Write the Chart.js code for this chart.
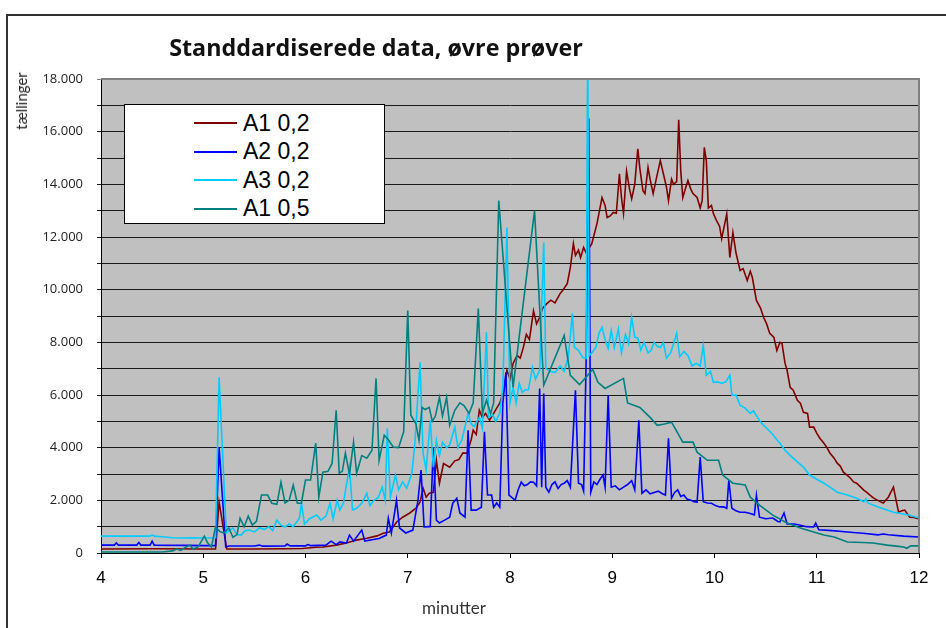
<!DOCTYPE html>
<html>
<head>
<meta charset="utf-8">
<script src="https://cdn.jsdelivr.net/npm/chart.js@4.4.1/dist/chart.umd.min.js"></script>
<style>
  html, body { margin: 0; padding: 0; background: #fff; }
  #wrap { position: relative; width: 946px; height: 628px; overflow: hidden; }
  #frame { position: absolute; left: 6px; top: 14px; width: 1000px; height: 700px;
           border-left: 2px solid #333; border-top: 2px solid #333; }
  #title { position: absolute; left: 0; width: 752px; top: 31px; text-align: center;
           font: bold 23.3px "Open Sans", sans-serif; color: #111; }
  #ytitle { position: absolute; left: 21px; top: 101px; transform: translate(-50%, -50%) rotate(-90deg);
            font: 15px Lato, sans-serif; color: #222; white-space: nowrap; }
  #xtitle { position: absolute; left: 454px; top: 607px; transform: translate(-50%, -50%);
            font: 17px Lato, sans-serif; color: #333; }
  #legend { position: absolute; left: 124px; top: 104px; width: 259px; height: 118px;
            background: #fff; border: 1px solid #000; }
  .row { position: absolute; left: 69px; height: 28px; display: flex; align-items: center;
         font: 23px "Liberation Sans", Arial, sans-serif; color: #000; }
  .row span.sw { display: inline-block; width: 43px; height: 2px; margin-right: 6px; }
  canvas { position: absolute; left: 0; top: 0; }
</style>
</head>
<body>
<div id="wrap">
  <div id="frame"></div>
  <canvas id="chart" width="946" height="628"></canvas>
  <div id="title">Standdardiserede data, øvre prøver</div>
  <div id="ytitle">tællinger</div>
  <div id="xtitle">minutter</div>
  <div id="legend"></div>
</div>
<script>
// series names / colours
const seriesNames = ['A1 0,2', 'A2 0,2', 'A3 0,2', 'A1 0,5'];
const seriesColors = ['#800000', '#0000ff', '#00ccff', '#008080'];

// A1 0,2
const a1_02_t = [4.0, 4.5, 5.0, 5.12, 5.155, 5.23, 5.5, 5.8, 5.97, 6.1, 6.17, 6.3, 6.4, 6.5, 6.6, 6.7, 6.76, 6.82, 6.89, 6.95,
  7.02, 7.08, 7.12, 7.15, 7.18, 7.21, 7.25, 7.28, 7.31, 7.35, 7.41, 7.46, 7.5, 7.54, 7.58, 7.62, 7.64, 7.67, 7.7, 7.73,
  7.76, 7.8, 7.84, 7.87, 7.9, 7.94, 7.97, 8.0, 8.03, 8.07, 8.1, 8.13, 8.16, 8.19, 8.23, 8.26, 8.29, 8.32, 8.36, 8.4,
  8.44, 8.49, 8.52, 8.56, 8.59, 8.62, 8.64, 8.67, 8.69, 8.72, 8.745, 8.8, 8.85, 8.9, 8.93, 8.95, 8.98, 9.01, 9.04, 9.07,
  9.09, 9.11, 9.14, 9.17, 9.19, 9.22, 9.25, 9.27, 9.3, 9.32, 9.35, 9.37, 9.4, 9.43, 9.47, 9.5, 9.53, 9.55, 9.58, 9.6,
  9.63, 9.65, 9.67, 9.69, 9.72, 9.74, 9.77, 9.79, 9.83, 9.86, 9.88, 9.9, 9.92, 9.94, 9.97, 9.99, 10.02, 10.05, 10.07, 10.1,
  10.12, 10.15, 10.18, 10.21, 10.25, 10.28, 10.32, 10.35, 10.37, 10.41, 10.45, 10.48, 10.51, 10.54, 10.58, 10.61, 10.64, 10.66, 10.69, 10.71,
  10.74, 10.77, 10.81, 10.84, 10.87, 10.91, 10.93, 10.97, 11.0, 11.03, 11.07, 11.1, 11.13, 11.17, 11.2, 11.23, 11.26, 11.3, 11.33, 11.36,
  11.39, 11.43, 11.46, 11.49, 11.52, 11.55, 11.59, 11.62, 11.65, 11.7, 11.75, 11.8, 11.83, 11.86, 11.91, 11.95, 12.0];
const a1_02_v = [150, 160, 150, 150, 1930, 150, 150, 160, 170, 220, 230, 300, 380, 490, 560, 650, 750, 800, 1170, 1360,
  1520, 1700, 1930, 2460, 2120, 2270, 2300, 3520, 2650, 3400, 3260, 3500, 3550, 3800, 3790, 4300, 4660, 4500, 5420, 5150,
  5300, 5040, 5300, 5500, 5690, 6200, 6940, 6600, 7200, 7500, 7400, 7800, 8300, 8100, 9200, 8700, 8950, 9300, 9470, 9600,
  9500, 9850, 10000, 10230, 10840, 11750, 11300, 11500, 11220, 11600, 11400, 11750, 12500, 13500, 13200, 12740, 12800, 12930, 12900, 14400,
  13500, 12900, 14500, 13800, 13450, 14000, 15350, 14600, 13760, 13650, 14640, 14200, 13650, 14200, 14900, 14400, 13900, 13380, 14200, 14000,
  14100, 16450, 14500, 13500, 13900, 14140, 13800, 13650, 13500, 13100, 13400, 15400, 14900, 13100, 13200, 12880, 12620, 12400, 11940, 12500,
  12880, 11220, 12170, 11400, 10730, 10800, 10350, 10700, 10460, 9590, 9300, 8950, 8700, 8340, 8200, 7690, 8000, 7960, 7200, 6940,
  6290, 6180, 5800, 5690, 5340, 5300, 4780, 4780, 4550, 4360, 4170, 4000, 3790, 3600, 3410, 3300, 3070, 2950, 2840, 2700,
  2650, 2500, 2390, 2300, 2200, 2100, 2010, 1950, 1900, 2120, 2500, 1550, 1600, 1630, 1360, 1350, 1290];

// A2 0,2
const a2_02_t = [4.0, 4.13, 4.15, 4.17, 4.35, 4.37, 4.39, 4.48, 4.5, 4.52, 4.8, 5.0, 5.12, 5.155, 5.22, 5.25, 5.5, 5.55, 5.58, 5.8,
  5.82, 5.85, 6.0, 6.02, 6.05, 6.2, 6.25, 6.3, 6.336, 6.4, 6.43, 6.47, 6.55, 6.58, 6.65, 6.72, 6.79, 6.81, 6.84, 6.89,
  6.92, 6.98, 7.05, 7.1, 7.13, 7.16, 7.2, 7.22, 7.25, 7.28, 7.31, 7.36, 7.41, 7.44, 7.48, 7.51, 7.56, 7.59, 7.62, 7.67,
  7.72, 7.75, 7.78, 7.82, 7.84, 7.87, 7.9, 7.93, 7.96, 7.99, 8.02, 8.05, 8.08, 8.11, 8.14, 8.17, 8.2, 8.23, 8.26, 8.29,
  8.31, 8.33, 8.35, 8.38, 8.41, 8.44, 8.47, 8.5, 8.53, 8.56, 8.59, 8.64, 8.67, 8.7, 8.72, 8.745, 8.77, 8.79, 8.82, 8.85,
  8.88, 8.91, 8.93, 8.96, 8.99, 9.03, 9.07, 9.11, 9.15, 9.19, 9.22, 9.26, 9.29, 9.33, 9.37, 9.41, 9.45, 9.49, 9.52, 9.55,
  9.58, 9.61, 9.64, 9.67, 9.7, 9.73, 9.77, 9.8, 9.83, 9.86, 9.89, 9.93, 9.97, 10.01, 10.05, 10.09, 10.12, 10.14, 10.17, 10.21,
  10.25, 10.3, 10.35, 10.39, 10.41, 10.44, 10.5, 10.57, 10.62, 10.64, 10.68, 10.71, 10.78, 10.83, 10.9, 10.97, 10.99, 11.02, 11.15, 11.3,
  11.45, 11.6, 11.65, 11.7, 11.85, 12.0];
const a2_02_v = [300, 300, 380, 300, 300, 400, 300, 300, 450, 300, 290, 280, 280, 4020, 230, 265, 265, 300, 260, 270,
  340, 270, 270, 320, 280, 300, 450, 320, 420, 380, 680, 450, 870, 450, 500, 550, 680, 1320, 760, 2000,
  950, 760, 870, 2000, 3150, 990, 1000, 1000, 4020, 1250, 1140, 1250, 1360, 1890, 2080, 1520, 1360, 4660, 1630, 1630,
  1740, 4600, 2200, 2200, 1740, 1900, 1740, 5690, 6860, 2200, 2100, 2010, 2400, 2690, 2550, 2600, 2700, 2690, 2550, 6250,
  2500, 6060, 2500, 2310, 2600, 2700, 2450, 2600, 2650, 2750, 2500, 6180, 2650, 2600, 2350, 7390, 16500, 2310, 2700, 2600,
  2800, 2960, 2500, 5990, 2500, 2550, 2400, 2500, 2600, 2750, 2400, 5040, 2270, 2400, 2250, 2300, 2350, 2250, 2200, 4360,
  2080, 2300, 2400, 2150, 2200, 2050, 2000, 1950, 1930, 3640, 1950, 1900, 1890, 1800, 1750, 1750, 1700, 2770, 1700, 1600,
  1550, 1550, 1500, 1450, 2200, 1360, 1300, 1330, 1200, 1180, 1520, 1100, 1100, 1060, 1000, 990, 1140, 880, 850, 800,
  750, 690, 720, 690, 640, 610];

// A3 0,2
const a3_02_t = [4.0, 4.2, 4.4, 4.48, 4.5, 4.52, 4.6, 4.7, 4.8, 4.9, 5.0, 5.12, 5.155, 5.225, 5.29, 5.33, 5.37, 5.41, 5.45, 5.5,
  5.55, 5.6, 5.64, 5.68, 5.72, 5.76, 5.8, 5.84, 5.88, 5.94, 5.96, 5.99, 6.04, 6.11, 6.15, 6.2, 6.24, 6.27, 6.31, 6.336,
  6.37, 6.43, 6.46, 6.5, 6.55, 6.6, 6.63, 6.67, 6.71, 6.75, 6.78, 6.8, 6.83, 6.88, 6.91, 6.95, 6.99, 7.04, 7.07, 7.12,
  7.15, 7.18, 7.22, 7.25, 7.28, 7.31, 7.34, 7.38, 7.41, 7.46, 7.49, 7.53, 7.59, 7.62, 7.65, 7.7, 7.73, 7.77, 7.79, 7.83,
  7.86, 7.9, 7.93, 7.97, 8.0, 8.03, 8.06, 8.09, 8.12, 8.15, 8.18, 8.22, 8.25, 8.29, 8.33, 8.35, 8.39, 8.44, 8.49, 8.53,
  8.57, 8.61, 8.63, 8.67, 8.71, 8.745, 8.76, 8.775, 8.8, 8.84, 8.87, 8.9, 8.93, 8.96, 8.99, 9.02, 9.06, 9.09, 9.13, 9.16,
  9.19, 9.22, 9.25, 9.28, 9.31, 9.35, 9.38, 9.41, 9.44, 9.47, 9.5, 9.53, 9.57, 9.6, 9.63, 9.66, 9.7, 9.74, 9.78, 9.82,
  9.86, 9.89, 9.92, 9.96, 9.99, 10.03, 10.07, 10.11, 10.15, 10.17, 10.21, 10.25, 10.3, 10.35, 10.38, 10.42, 10.46, 10.52, 10.57, 10.61,
  10.64, 10.69, 10.74, 10.8, 10.87, 10.93, 11.0, 11.07, 11.13, 11.2, 11.3, 11.39, 11.46, 11.48, 11.5, 11.6, 11.75, 11.9, 12.0];
const a3_02_v = [640, 640, 640, 640, 690, 640, 620, 580, 570, 580, 570, 580, 6670, 760, 950, 700, 680, 850, 870, 800,
  950, 900, 1000, 850, 1250, 1050, 990, 1100, 1000, 1320, 1890, 1100, 1300, 1440, 1250, 1400, 1890, 1300, 2000, 1630,
  1890, 3260, 1630, 1700, 1890, 2270, 1800, 2000, 2100, 2500, 2000, 4740, 2120, 2960, 2400, 2700, 2460, 3030, 4170, 7240,
  3790, 3150, 5040, 3260, 4280, 3700, 4200, 4000, 4100, 4780, 4000, 4300, 5300, 4900, 4800, 5150, 4740, 8380, 5150, 5250,
  5000, 5300, 6290, 12360, 5690, 6300, 5700, 6440, 6100, 6200, 6200, 7050, 6600, 6940, 11790, 7010, 6900, 6850, 7100, 6900,
  7430, 9100, 7810, 7700, 7430, 7390, 19500, 7500, 7600, 7810, 8340, 8570, 8100, 7770, 8450, 7800, 8500, 7600, 8300, 7950,
  8950, 8200, 8150, 7700, 8000, 7600, 7700, 8000, 7850, 7800, 8000, 7400, 7600, 7950, 8340, 7450, 7650, 7500, 7100, 7200,
  7100, 7880, 6750, 6900, 6480, 6500, 6440, 6500, 6750, 5990, 6000, 5610, 5500, 5300, 5400, 5150, 4930, 4700, 4500, 4300,
  4170, 3900, 3710, 3500, 3260, 2960, 2800, 2650, 2500, 2310, 2200, 2080, 1950, 2050, 1900, 1750, 1550, 1440, 1330];

// A1 0,5
const a1_05_t = [4.0, 4.3, 4.6, 4.7, 4.74, 4.78, 4.82, 4.87, 4.9, 4.95, 5.01, 5.04, 5.08, 5.12, 5.16, 5.2, 5.25, 5.29, 5.33, 5.36,
  5.4, 5.44, 5.48, 5.52, 5.57, 5.63, 5.67, 5.72, 5.76, 5.8, 5.84, 5.88, 5.92, 5.96, 6.0, 6.05, 6.1, 6.13, 6.17, 6.22,
  6.26, 6.3, 6.33, 6.36, 6.39, 6.43, 6.47, 6.5, 6.55, 6.6, 6.65, 6.69, 6.72, 6.77, 6.81, 6.86, 6.91, 6.96, 7.0, 7.03,
  7.08, 7.11, 7.14, 7.17, 7.21, 7.24, 7.27, 7.31, 7.34, 7.38, 7.41, 7.46, 7.51, 7.55, 7.6, 7.64, 7.69, 7.73, 7.77, 7.81,
  7.84, 7.89, 8.03, 8.24, 8.33, 8.53, 8.59, 8.68, 8.81, 8.86, 8.93, 9.11, 9.15, 9.27, 9.37, 9.44, 9.51, 9.58, 9.69, 9.79,
  9.83, 9.93, 10.04, 10.08, 10.18, 10.3, 10.35, 10.44, 10.57, 10.71, 10.84, 10.97, 11.07, 11.17, 11.3, 11.45, 11.55, 11.69, 11.8, 11.85,
  11.88, 11.92, 12.0];
const a1_05_v = [40, 40, 40, 80, 150, 100, 200, 300, 150, 230, 640, 400, 230, 990, 820, 760, 950, 600, 700, 1320,
  1000, 1400, 1060, 1200, 2200, 2200, 1890, 1850, 2690, 1900, 2000, 2580, 1890, 1890, 2770, 2770, 4170, 2120, 3070, 3100,
  3400, 5420, 3030, 3100, 3790, 3000, 4210, 3030, 3700, 3600, 3900, 6630, 3520, 4470, 4300, 4020, 4000, 4600, 9210, 5230,
  4900, 4280, 5530, 5450, 5530, 5000, 5200, 5910, 5200, 5910, 4850, 5420, 5700, 5600, 5300, 5700, 9280, 5300, 5800, 5300,
  5700, 13380, 6290, 13000, 6370, 8260, 6750, 6400, 6970, 6480, 6250, 6630, 5700, 5530, 5150, 4850, 4900, 4970, 4210, 4210,
  3830, 3520, 3520, 2960, 2650, 2580, 2120, 1820, 1440, 1140, 950, 800, 680, 610, 420, 400, 380, 300, 250, 230,
  180, 270, 270];

// axis ticks
const xMin = 4, xMax = 12, xStep = 1;
const yMin = 0, yMax = 18000, yStep = 1000, yLabelStep = 2000;

const seriesT = [a1_02_t, a2_02_t, a3_02_t, a1_05_t];
const seriesV = [a1_02_v, a2_02_v, a3_02_v, a1_05_v];

// legend box
const legend = document.getElementById('legend');
seriesNames.forEach((name, i) => {
    const row = document.createElement('div');
    row.className = 'row';
    row.style.top = (4 + i * 28.5) + 'px';
    row.innerHTML = '<span class="sw" style="background:' + seriesColors[i] + '"></span>' + name;
    legend.appendChild(row);
});

// grey plot area + border on top/right
const plotBg = {
    id: 'plotBg',
    beforeDraw(chart) {
        const { ctx, chartArea: a } = chart;
        ctx.save();
        ctx.fillStyle = '#c0c0c0';
        ctx.fillRect(a.left, a.top, a.right - a.left, a.bottom - a.top);
        ctx.restore();
    },
    afterDraw(chart) {
        const { ctx, chartArea: a } = chart;
        ctx.save();
        ctx.strokeStyle = '#808080';
        ctx.lineWidth = 2;
        ctx.beginPath();
        ctx.moveTo(a.left, a.top);
        ctx.lineTo(a.right, a.top);
        ctx.lineTo(a.right, a.bottom);
        ctx.stroke();
        ctx.restore();
    }
};

const datasets = seriesNames.map((name, i) => ({
    label: name,
    data: seriesT[i].map((t, j) => ({ x: t, y: seriesV[i][j] })),
    borderColor: seriesColors[i],
    borderWidth: 1.6,
    pointRadius: 0,
    tension: 0,
    fill: false,
    order: seriesNames.length - i
}));

new Chart(document.getElementById('chart'), {
    type: 'line',
    data: { datasets },
    plugins: [plotBg],
    options: {
        responsive: false,
        animation: false,
        layout: { padding: { top: 79, right: 27, left: 0, bottom: 0 } },
        plugins: { legend: { display: false }, tooltip: { enabled: false }, title: { display: false } },
        scales: {
            x: {
                type: 'linear',
                min: xMin, max: xMax,
                afterFit(scale) { scale.height = 75; },
                ticks: {
                    stepSize: xStep,
                    padding: 10,
                    color: '#000',
                    font: { family: '"Liberation Sans", Arial, sans-serif', size: 17 },
                    maxRotation: 0
                },
                grid: { drawOnChartArea: false, drawTicks: true, tickLength: 5, color: '#000', lineWidth: 1 },
                border: { display: true, color: '#000', width: 1 }
            },
            y: {
                min: yMin, max: yMax,
                afterFit(scale) { scale.width = 101; },
                ticks: {
                    stepSize: yStep,
                    padding: 14,
                    color: '#222',
                    font: { family: '"Open Sans", sans-serif', size: 13 },
                    callback: v => v % yLabelStep === 0 ? (v === 0 ? '0' : (v / 1000) + '.000') : ''
                },
                grid: {
                    color: ctx => ctx.tick && ctx.tick.value === yMax ? '#808080' : '#1a1a1a',
                    lineWidth: 1,
                    tickLength: 4
                },
                border: { display: true, color: '#000', width: 1 }
            }
        }
    }
});
</script>
</body>
</html>
